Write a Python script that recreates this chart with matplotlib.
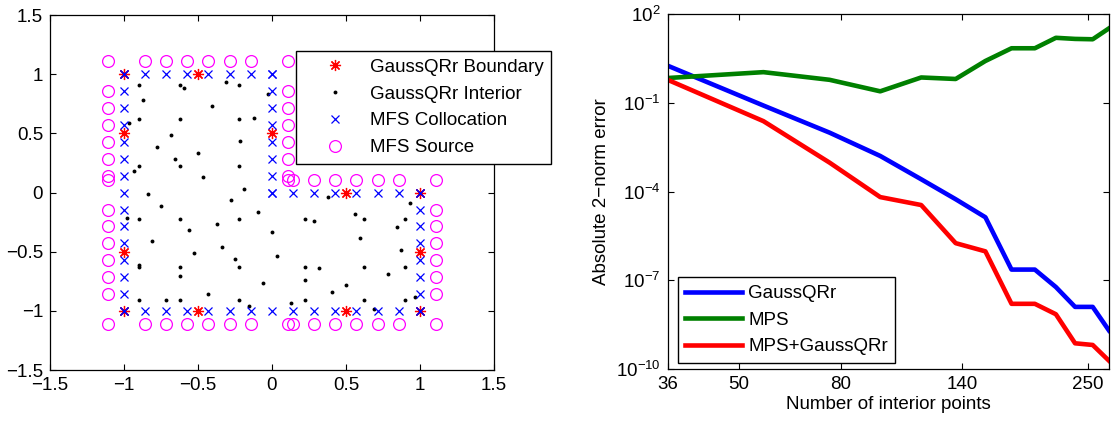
import numpy as np
import matplotlib
matplotlib.use("Agg")
import matplotlib.pyplot as plt
from matplotlib.ticker import FixedLocator, NullLocator, FuncFormatter

plt.rcParams['font.family'] = ['Liberation Sans', 'DejaVu Sans']
plt.rcParams['font.size'] = 13.5
plt.rcParams['mathtext.fontset'] = 'custom'
plt.rcParams['mathtext.rm'] = 'Liberation Sans'
plt.rcParams['mathtext.it'] = 'Liberation Sans:italic'

# ---- left panel: point sets on the L-shaped domain ----
steps = [-1, -0.857, -0.714, -0.571, -0.429, -0.286, -0.143, 0,
         0.143, 0.286, 0.429, 0.571, 0.714, 0.857, 1]

# GaussQRr boundary points
bnd_x = [-1, -0.5, -1, 0, 0.5, 1, -1, 1, -1, -0.5, 0.5, 1]
bnd_y = [1, 1, 0.5, 0.5, 0, 0, -0.5, -0.5, -1, -1, -1, -1]

# GaussQRr interior points
int_x = [-0.899, -0.622, -0.221, -0.899, -0.622, -0.221, -0.899, -0.622, -0.221,
         -0.899, -0.622, -0.221, 0.224, 0.625, 0.899,
         -0.899, -0.622, -0.221, 0.224, 0.625, 0.899,
         -0.899, -0.622, -0.221, 0.224, 0.625, 0.899,
         -0.592, -0.313, -0.029, -0.874, -0.403, -0.122, -0.964, -0.685, -0.216,
         -0.779, -0.498, -0.653, -0.935, -0.466, -0.187, -0.840, -0.279, -0.748,
         -0.093, -0.982, -0.374, -0.561, 0.002, -0.811, -0.340, -0.529, 0.034,
         -0.248, -0.900, -0.622, -0.061, -0.435, -0.716, -0.155, 0.376, 0.563,
         0.284, 0.845, 0.935, 0.595, 0.875, 0.315, 0.782, 0.221, 0.502, 0.407,
         0.966, 0.126, 0.689]
int_y = [0.906, 0.906, 0.906, 0.626, 0.626, 0.626, 0.223, 0.223, 0.223,
         -0.226, -0.226, -0.226, -0.226, -0.226, -0.226,
         -0.628, -0.628, -0.628, -0.628, -0.628, -0.628,
         -0.908, -0.908, -0.908, -0.908, -0.908, -0.908,
         0.881, 0.932, 0.830, 0.782, 0.732, 0.633, 0.585, 0.484, 0.434,
         0.383, 0.335, 0.284, 0.186, 0.132, 0.034, -0.011, -0.064, -0.112,
         -0.163, -0.216, -0.264, -0.315, -0.337, -0.413, -0.464, -0.512, -0.537,
         -0.562, -0.610, -0.708, -0.762, -0.861, -0.908, -0.962, -0.039, -0.185,
         -0.236, -0.289, -0.089, -0.385, -0.483, -0.635, -0.686, -0.737, -0.785,
         -0.838, -0.880, -0.933, -0.984]

# MFS collocation points, edge by edge around the L
col_x = ([-1] * 15 + steps + [1] * 8 + steps[7:] + [0] * 8 + steps[:8])
col_y = (steps + [-1] * 15 + steps[:8] + [0] * 8 + steps[7:] + [1] * 8)

# MFS source points
src_left_y = [1.11, 0.857, 0.714, 0.571, 0.429, 0.286, 0.143, 0.11,
              -0.143, -0.286, -0.429, -0.571, -0.714, -0.857, -1.11]
src_bot_x = [-0.857, -0.714, -0.571, -0.429, -0.286, -0.143, 0.11, 0.143,
             0.286, 0.429, 0.571, 0.714, 0.857, 1.11]
src_right_y = [-0.857, -0.714, -0.571, -0.429, -0.286, -0.143, 0.11]
src_mid_x = [0.11, 0.143, 0.286, 0.429, 0.571, 0.714, 0.857]
src_up_y = [0.143, 0.286, 0.429, 0.571, 0.714, 0.857, 1.11]
src_top_x = [-0.857, -0.714, -0.571, -0.429, -0.286, -0.143]

src_x = ([-1.11] * len(src_left_y) + src_bot_x + [1.11] * len(src_right_y)
         + src_mid_x + [0.11] * len(src_up_y) + src_top_x)
src_y = (src_left_y + [-1.11] * len(src_bot_x) + src_right_y
         + [0.11] * len(src_mid_x) + src_up_y + [1.11] * len(src_top_x))

# ---- right panel: error vs number of interior points ----
npts = [36, 56, 76, 96, 116, 136, 156, 176, 196, 216, 236, 256, 276]
err_gqr = [1.8, 8.1e-2, 9.8e-3, 1.6e-3, 2.6e-4, 5.5e-5, 1.35e-5,
           2.3e-7, 2.3e-7, 5.9e-8, 1.26e-8, 1.26e-8, 2.0e-9]
err_mps = [0.69, 1.09, 0.60, 0.245, 0.72, 0.64, 2.6,
           7.0, 7.0, 15.8, 14.5, 14.1, 33.0]
err_both = [0.60, 2.4e-2, 9.5e-4, 6.5e-5, 3.5e-5, 1.8e-6, 9.5e-7,
            1.6e-8, 1.6e-8, 7.1e-9, 7.4e-10, 6.5e-10, 1.9e-10]

xticks_r = [36, 50, 80, 140, 250]
yticks_r = [1e2, 1e-1, 1e-4, 1e-7, 1e-10]
ticks_l = [-1.5, -1, -0.5, 0, 0.5, 1, 1.5]

fig = plt.figure(figsize=(11.11, 4.21), dpi=100)
ax1 = fig.add_axes([0.045, 0.121, 0.3996, 0.843])
ax2 = fig.add_axes([0.601, 0.1235, 0.3972, 0.843])

ax1.plot(bnd_x, bnd_y, ls='none', marker=(8, 2, 0), ms=8, mew=0.9,
         color='#ff0000', label='GaussQRr Boundary')
ax1.plot(int_x, int_y, ls='none', marker='o', ms=2.8, mew=0,
         color='k', label='GaussQRr Interior')
ax1.plot(col_x, col_y, ls='none', marker='x', ms=6, mew=0.9,
         color='#0000ff', label='MFS Collocation')
ax1.plot(src_x, src_y, ls='none', marker='o', ms=8.5, mew=0.9, mfc='none',
         color='#ff00ff', label='MFS Source')

ax1.set_xlim(-1.5, 1.5)
ax1.set_ylim(-1.5, 1.5)
lab = lambda v: ('%g' % v).replace('-', '\u2212')
ax1.set_xticks(ticks_l)
ax1.set_xticklabels([lab(v) for v in ticks_l])
ax1.set_yticks(ticks_l)
ax1.set_yticklabels([lab(v) for v in ticks_l])
leg1 = ax1.legend(loc='upper left', bbox_to_anchor=(0.554, 0.899),
                  numpoints=1, handlelength=3.4, handletextpad=0.15,
                  borderpad=0.4, labelspacing=0.52, fancybox=False,
                  framealpha=1, edgecolor='k', borderaxespad=0)
leg1.get_frame().set_linewidth(1.0)

ax2.plot(npts, err_gqr, color='#0000ff', lw=3.3, label='GaussQRr')
ax2.plot(npts, err_mps, color='#008000', lw=3.3, label='MPS')
ax2.plot(npts, err_both, color='#ff0000', lw=3.3, label='MPS+GaussQRr')
ax2.set_xscale('log')
ax2.set_yscale('log')
ax2.set_xlim(36, 276)
ax2.set_ylim(1e-10, 1e2)
ax2.xaxis.set_major_locator(FixedLocator(xticks_r))
ax2.xaxis.set_minor_locator(NullLocator())
ax2.xaxis.set_major_formatter(FuncFormatter(lambda v, p: '%d' % v))
ax2.yaxis.set_major_locator(FixedLocator(yticks_r))
ax2.yaxis.set_minor_locator(NullLocator())
ax2.yaxis.set_major_formatter(FuncFormatter(
    lambda v, p: r'$\mathregular{10^{%d}}$' % round(np.log10(v))))
ax2.set_xlabel('Number of interior points', labelpad=2)
ax2.set_ylabel('Absolute 2\u2212norm error')
leg2 = ax2.legend(loc='lower left', bbox_to_anchor=(0.023, 0.018),
                  handlelength=3.0, handletextpad=0.35, borderpad=0.4,
                  labelspacing=0.5, fancybox=False, framealpha=1,
                  edgecolor='k', borderaxespad=0)
leg2.get_frame().set_linewidth(1.0)

for ax in (ax1, ax2):
    ax.tick_params(which='both', direction='in', top=True, right=True,
                   length=4, width=0.8, labelsize=13.5, pad=5)
    for s in ax.spines.values():
        s.set_linewidth(0.9)

fig.savefig('out.png', dpi=100)
